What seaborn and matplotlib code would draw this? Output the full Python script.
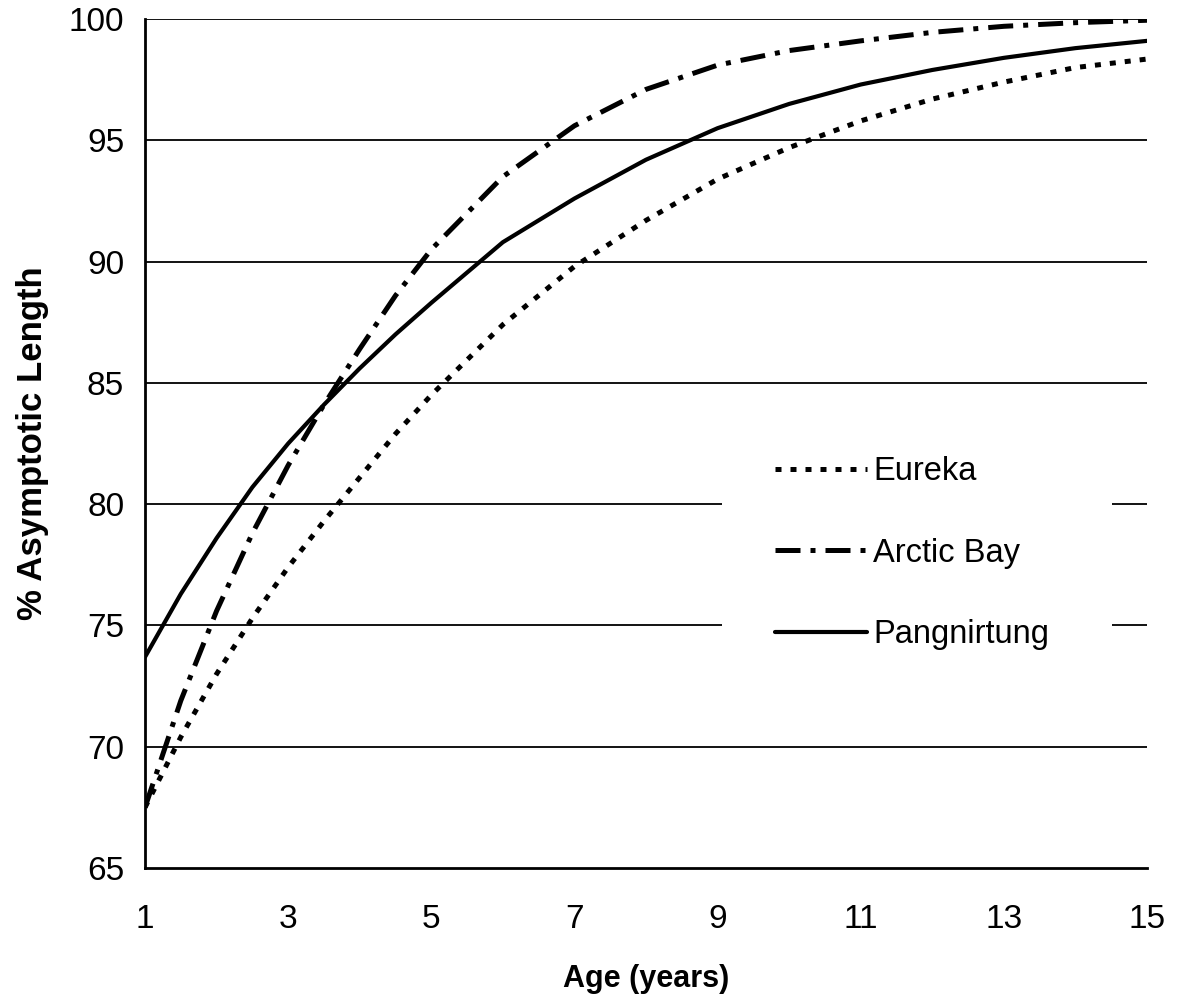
import matplotlib
matplotlib.use("Agg")
import matplotlib.pyplot as plt
from matplotlib.patches import Rectangle
import seaborn as sns

ages = [1, 1.5, 2, 2.5, 3, 3.5, 4, 4.5, 5, 6, 7, 8, 9, 10, 11, 12, 13, 14, 15]
eureka = [67.5, 70.4, 73.0, 75.3, 77.4, 79.3, 81.1, 82.9, 84.5, 87.4, 89.8, 91.7, 93.4, 94.7, 95.8, 96.7, 97.4, 98.0, 98.35]
arctic_bay = [67.5, 71.9, 75.6, 78.8, 81.6, 84.1, 86.4, 88.6, 90.5, 93.5, 95.6, 97.1, 98.1, 98.7, 99.1, 99.45, 99.7, 99.85, 99.95]
pangnirtung = [73.7, 76.3, 78.6, 80.7, 82.5, 84.1, 85.6, 87.0, 88.3, 90.8, 92.6, 94.2, 95.5, 96.5, 97.3, 97.9, 98.4, 98.8, 99.1]
x_ticks = [1, 3, 5, 7, 9, 11, 13, 15]
y_ticks = [65, 70, 75, 80, 85, 90, 95, 100]

sns.set_theme(style="white")
plt.rcParams['font.family'] = ['Liberation Sans', 'DejaVu Sans']
plt.rcParams['text.color'] = 'black'
plt.rcParams['axes.labelcolor'] = 'black'

fig = plt.figure(figsize=(11.8, 10.02), dpi=100)
ax = fig.add_axes([0.1229, 0.1337, 0.972 - 0.1229, 0.981 - 0.1337])

for yv in y_ticks[1:]:
    ax.axhline(yv, color='black', lw=1.3, zorder=1)

sns.lineplot(x=ages, y=eureka, ax=ax, color='black', lw=3.6,
             linestyle=(0, (1.2, 1.8)), label='Eureka', zorder=3)
sns.lineplot(x=ages, y=arctic_bay, ax=ax, color='black', lw=3.6,
             linestyle=(0, (5, 2, 1, 2)), label='Arctic Bay', zorder=3)
sns.lineplot(x=ages, y=pangnirtung, ax=ax, color='black', lw=3.0,
             linestyle='-', label='Pangnirtung', zorder=3)

ax.set_xlim(1, 15)
ax.set_ylim(65, 100)
ax.set_xticks(x_ticks)
ax.set_yticks(y_ticks)
ax.tick_params(axis='both', labelsize=24, colors='black', direction='out', width=1.5)
ax.tick_params(axis='y', length=9, pad=6)
ax.tick_params(axis='x', length=8, pad=18)

for s in ['top', 'right']:
    ax.spines[s].set_visible(False)
for s in ['left', 'bottom']:
    ax.spines[s].set_color('black')
    ax.spines[s].set_linewidth(2)

ax.set_xlabel('Age (years)', fontsize=22, fontweight='bold', labelpad=21)
ax.set_ylabel('% Asymptotic Length', fontsize=25, fontweight='bold', labelpad=14)

# white legend area interrupting the gridlines
ax.add_patch(Rectangle((0.576, 6 / 35), 0.389, 13 / 35, transform=ax.transAxes,
                       facecolor='white', edgecolor='none', zorder=2))

leg = ax.legend(loc='center left', bbox_to_anchor=(0.629, 0.371), frameon=False,
                fontsize=23.5, handlelength=2.8, handletextpad=0.2,
                labelspacing=1.55, borderpad=0.0, borderaxespad=0.0)
for t in leg.get_texts():
    t.set_color('black')
leg.set_zorder(4)

fig.savefig('out.png', dpi=100, facecolor='white')
